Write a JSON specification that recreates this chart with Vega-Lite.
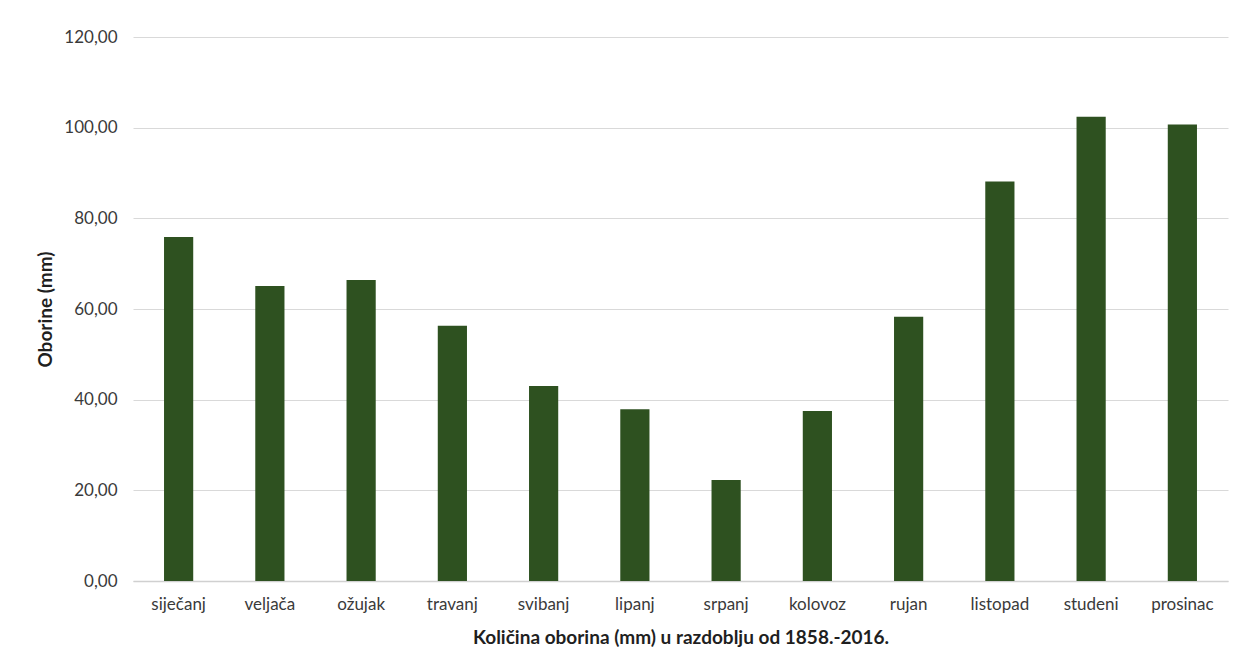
{
  "$schema": "https://vega.github.io/schema/vega-lite/v6.json",
  "width": 1095,
  "height": 544,
  "autosize": {"type": "none"},
  "padding": {"left": 133, "top": 37, "right": 13, "bottom": 90},
  "background": "white",
  "data": {
    "values": [
      {"mjesec": "siječanj", "oborine": 75.9},
      {"mjesec": "veljača", "oborine": 65.1},
      {"mjesec": "ožujak", "oborine": 66.4},
      {"mjesec": "travanj", "oborine": 56.3},
      {"mjesec": "svibanj", "oborine": 43.0},
      {"mjesec": "lipanj", "oborine": 37.9},
      {"mjesec": "srpanj", "oborine": 22.3},
      {"mjesec": "kolovoz", "oborine": 37.5},
      {"mjesec": "rujan", "oborine": 58.3},
      {"mjesec": "listopad", "oborine": 88.1},
      {"mjesec": "studeni", "oborine": 102.4},
      {"mjesec": "prosinac", "oborine": 100.7}
    ]
  },
  "mark": {"type": "bar", "color": "#2e5120"},
  "encoding": {
    "x": {
      "field": "mjesec",
      "type": "nominal",
      "sort": null,
      "scale": {"paddingInner": 0.68, "paddingOuter": 0.34},
      "axis": {
        "title": "Količina oborina (mm) u razdoblju od 1858.-2016.",
        "labelAngle": 0,
        "ticks": false,
        "domain": true,
        "domainColor": "#d0d0d0",
        "domainWidth": 1.5,
        "labelPadding": 15,
        "labelFontSize": 17,
        "labelColor": "#3a3a3a",
        "titleFontSize": 19,
        "titleFontWeight": "bold",
        "titleColor": "#1f1f1f",
        "titlePadding": 16
      }
    },
    "y": {
      "field": "oborine",
      "type": "quantitative",
      "scale": {"domain": [0, 120], "nice": false},
      "axis": {
        "title": "Oborine (mm)",
        "values": [0, 20, 40, 60, 80, 100, 120],
        "labelExpr": "replace(format(datum.value, '.2f'), '.', ',')",
        "ticks": false,
        "domain": false,
        "gridColor": "#d9d9d9",
        "gridWidth": 1.2,
        "labelPadding": 16,
        "labelFontSize": 17,
        "labelColor": "#3a3a3a",
        "titleFontSize": 19,
        "titleFontWeight": "bold",
        "titleColor": "#1f1f1f",
        "titlePadding": 8
      }
    }
  },
  "config": {
    "font": "Lato",
    "view": {"stroke": null}
  }
}
